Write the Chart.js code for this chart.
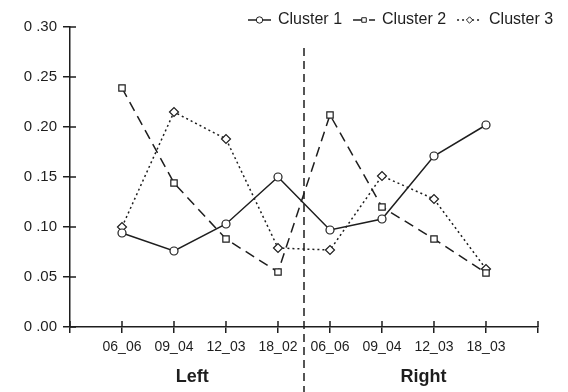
<!DOCTYPE html>
<html>
<head>
<meta charset="utf-8">
<script src="https://cdn.jsdelivr.net/npm/chart.js@4"></script>
<style>
  body { margin: 0; background: #fff; }
  #wrap { width: 568px; height: 392px; position: relative; }
</style>
</head>
<body>
<div id="wrap"><canvas id="chart"></canvas></div>
<script>
const categories = ['06_06', '09_04', '12_03', '18_02', '06_06', '09_04', '12_03', '18_03'];
const groupLabels = ['Left', 'Right'];
const yTickLabels = ['0 .00', '0 .05', '0 .10', '0 .15', '0 .20', '0 .25', '0 .30'];

const cluster1 = [0.094, 0.076, 0.103, 0.150, 0.097, 0.108, 0.171, 0.202];
const cluster2 = [0.239, 0.144, 0.088, 0.055, 0.212, 0.120, 0.088, 0.054];
const cluster3 = [0.100, 0.215, 0.188, 0.079, 0.077, 0.151, 0.128, 0.058];

const INK = '#1e1e1e';
const FONT = "'Liberation Sans', Arial, sans-serif";

function toPoints(values) {
  return values.map((v, i) => ({ x: i + 1, y: v }));
}

function makeSeries(label, values, dash, style, radius) {
  return {
    label: label,
    data: toPoints(values),
    borderColor: INK,
    borderWidth: 1.5,
    borderDash: dash,
    pointStyle: style,
    pointRadius: radius,
    pointBackgroundColor: '#fff',
    pointBorderColor: INK,
    pointBorderWidth: 1.2,
    tension: 0
  };
}

// inner half of the crossing tick marks
const innerTicks = {
  id: 'innerTicks',
  afterDraw(chart) {
    const ctx = chart.ctx;
    const xs = chart.scales.x;
    const ys = chart.scales.y;
    ctx.save();
    ctx.strokeStyle = INK;
    ctx.lineWidth = 1.5;
    ctx.beginPath();
    xs.ticks.forEach(t => {
      const px = xs.getPixelForValue(t.value);
      ctx.moveTo(px, ys.bottom);
      ctx.lineTo(px, ys.bottom - 6);
    });
    ys.ticks.forEach(t => {
      const py = ys.getPixelForValue(t.value);
      ctx.moveTo(xs.left, py);
      ctx.lineTo(xs.left + 6, py);
    });
    ctx.stroke();
    ctx.restore();
  }
};

// dashed divider and group names under the axis
const groups = {
  id: 'groups',
  afterDraw(chart, args, opts) {
    const ctx = chart.ctx;
    const xs = chart.scales.x;
    const px = xs.getPixelForValue(opts.divider);
    ctx.save();
    ctx.strokeStyle = INK;
    ctx.lineWidth = 1.5;
    ctx.setLineDash([8, 5]);
    ctx.beginPath();
    ctx.moveTo(px, opts.top);
    ctx.lineTo(px, chart.height);
    ctx.stroke();
    ctx.setLineDash([]);
    ctx.fillStyle = INK;
    ctx.font = 'bold 18px ' + FONT;
    ctx.textAlign = 'center';
    ctx.textBaseline = 'middle';
    groupLabels.forEach((g, i) => {
      ctx.fillText(g, xs.getPixelForValue(opts.centers[i]), opts.labelY);
    });
    ctx.restore();
  }
};

// legend with line sample and marker, like the original
const lineLegend = {
  id: 'lineLegend',
  afterDraw(chart, args, opts) {
    const ctx = chart.ctx;
    let x = opts.x;
    const y = opts.y;
    ctx.save();
    ctx.font = '16px ' + FONT;
    ctx.textBaseline = 'middle';
    chart.data.datasets.forEach((ds, i) => {
      const w = opts.sampleWidths[i];
      ctx.strokeStyle = INK;
      ctx.lineWidth = 1.5;
      ctx.setLineDash(ds.borderDash);
      ctx.beginPath();
      ctx.moveTo(x, y);
      ctx.lineTo(x + w, y);
      ctx.stroke();
      ctx.setLineDash([]);
      ctx.fillStyle = '#fff';
      ctx.lineWidth = 1;
      Chart.helpers.drawPoint(ctx, { pointStyle: ds.pointStyle, radius: 3.2, borderWidth: 1 }, x + w / 2, y);
      x += w + 7;
      ctx.fillStyle = INK;
      ctx.fillText(ds.label, x, y);
      x += ctx.measureText(ds.label).width + 11;
    });
    ctx.restore();
  }
};

new Chart(document.getElementById('chart'), {
  type: 'line',
  data: {
    datasets: [
      makeSeries('Cluster 1', cluster1, [], 'circle', 4),
      makeSeries('Cluster 2', cluster2, [10, 6], 'rect', 4.5),
      makeSeries('Cluster 3', cluster3, [2, 3], 'rectRot', 4.5)
    ]
  },
  plugins: [innerTicks, groups, lineLegend],
  options: {
    responsive: true,
    maintainAspectRatio: false,
    animation: false,
    layout: { padding: { top: 27, right: 30, left: 0, bottom: 0 } },
    plugins: {
      legend: { display: false },
      tooltip: { enabled: false },
      groups: { divider: 4.5, top: 48, centers: [2.35, 6.8], labelY: 377 },
      lineLegend: { x: 248, y: 20, sampleWidths: [23, 22, 25] }
    },
    scales: {
      x: {
        type: 'linear',
        min: 0,
        max: 9,
        afterBuildTicks: scale => {
          scale.ticks = [0, 1, 2, 3, 4, 5, 6, 7, 8, 9].map(v => ({ value: v }));
        },
        afterFit: scale => { scale.height = 65; },
        ticks: {
          autoSkip: false,
          maxRotation: 0,
          padding: 6,
          color: INK,
          font: { family: FONT, size: 14 },
          callback: v => categories[v - 1] || ''
        },
        grid: { drawOnChartArea: false, tickLength: 6, color: INK, lineWidth: 1.5 },
        border: { color: INK, width: 1.5 }
      },
      y: {
        min: 0,
        max: 0.3,
        afterFit: scale => { scale.width = 70; },
        ticks: {
          stepSize: 0.05,
          padding: 6,
          color: INK,
          font: { family: FONT, size: 15 },
          callback: (v, i) => yTickLabels[i]
        },
        grid: { drawOnChartArea: false, tickLength: 7, color: INK, lineWidth: 1.5 },
        border: { color: INK, width: 1.5 }
      }
    }
  }
});
</script>
</body>
</html>
